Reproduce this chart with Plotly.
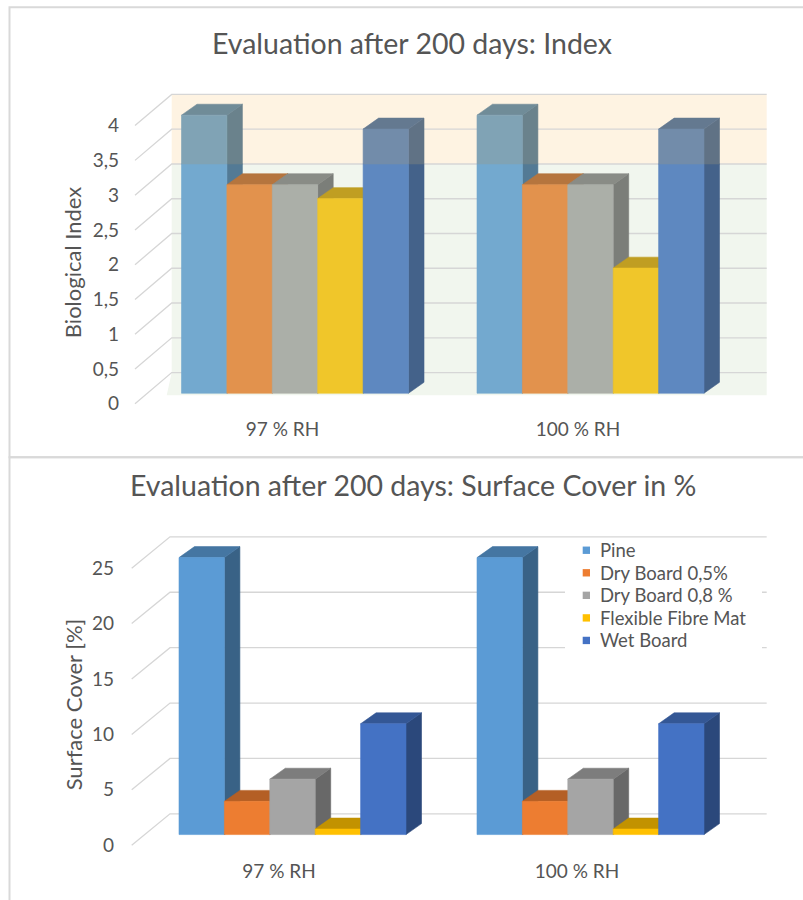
import plotly.graph_objects as go

# ---------------- data ----------------
categories = ["97 % RH", "100 % RH"]
series_names = ["Pine", "Dry Board 0,5%", "Dry Board 0,8 %", "Flexible Fibre Mat", "Wet Board"]

# Biological index after 200 days
index_pine = [4.0, 4.0]
index_dry_05 = [3.0, 3.0]
index_dry_08 = [3.0, 3.0]
index_fibre_mat = [2.8, 1.8]
index_wet = [3.8, 3.8]

# Surface cover after 200 days [%]
cover_pine = [25, 25]
cover_dry_05 = [3, 3]
cover_dry_08 = [5, 5]
cover_fibre_mat = [0.5, 0.5]
cover_wet = [10, 10]

index_ticks = [0, 0.5, 1, 1.5, 2, 2.5, 3, 3.5, 4]
index_tick_labels = ["0", "0,5", "1", "1,5", "2", "2,5", "3", "3,5", "4"]
cover_ticks = [0, 5, 10, 15, 20, 25]
cover_tick_labels = ["0", "5", "10", "15", "20", "25"]
index_limit = 3  # index band boundary drawn on the back wall

# ---------------- style ----------------
W, H = 803, 900
FONT = "Lato"
TEXT = "#555555"
GRID = "#D6D6D6"
FRAME = "#D9D9D9"

index_colors = ["#73A9CF", "#E2924D", "#ABAFA8", "#F0C62A", "#5E88C0"]
cover_colors = ["#5B9BD5", "#ED7D31", "#A5A5A5", "#FFC000", "#4472C4"]

# pixel geometry of the two oblique-projected panels
TOP = dict(xaxis="x", yaxis="y", px_x=(128, 790), px_y=(88, 412), cat0=295.0, cat_step=295.5,
           zero=395.0, unit=69.83, bar_px=45.4, depth=(15.5, 11.0), wall_px=(171.7, 766.7),
           front_px=135.0, rise_px=20.8, drop_px=10.5, label_shift_px=-12.5)
BOTTOM = dict(xaxis="x2", yaxis="y2", px_x=(128, 790), px_y=(528, 856), cat0=292.5, cat_step=298.0,
              zero=838.3, unit=11.13, bar_px=45.4, depth=(15.5, 11.0), wall_px=(170.0, 766.7),
              front_px=131.7, rise_px=20.8, drop_px=10.7, label_shift_px=-13.5)


def hex_rgb(c):
    c = c.lstrip("#")
    return tuple(int(c[i:i + 2], 16) for i in (0, 2, 4))


def rgb_hex(t):
    return "#%02X%02X%02X" % tuple(max(0, min(255, int(round(v)))) for v in t)


def shade(c, k):
    return rgb_hex(tuple(v * k for v in hex_rgb(c)))


def tint(c, with_rgb=(160, 150, 120), a=0.3):
    return rgb_hex(tuple(v + a * (w - v) for v, w in zip(hex_rgb(c), with_rgb)))


def to_x(p, px):
    return (px - p["cat0"]) / p["cat_step"]


def to_y(p, py):
    return (p["zero"] - py) / p["unit"]


def axis_setup(p):
    x0, x1 = p["px_x"]
    y0, y1 = p["px_y"]
    return dict(xdom=[x0 / W, x1 / W], ydom=[1 - y1 / H, 1 - y0 / H],
                xr=[to_x(p, x0), to_x(p, x1)], yr=[to_y(p, y1), to_y(p, y0)])


def clip(poly, t, below):
    """Clip a polygon against the horizontal line y = t."""
    def inside(q):
        return q[1] <= t if below else q[1] >= t

    def cross(a, b):
        f = (t - a[1]) / (b[1] - a[1])
        return (a[0] + f * (b[0] - a[0]), t)

    out = []
    for i in range(len(poly)):
        cur, prev = poly[i], poly[i - 1]
        if inside(cur):
            if not inside(prev):
                out.append(cross(prev, cur))
            out.append(cur)
        elif inside(prev):
            out.append(cross(prev, cur))
    return out


def add_columns(fig, p, values, colors, side_k, top_k, split=None):
    bw = p["bar_px"] / p["cat_step"]
    ddx = p["depth"][0] / p["cat_step"]
    ddy = p["depth"][1] / p["unit"]
    for j, vals in enumerate(values):
        faces = {"side": [], "top": [], "front": []}
        for i, v in enumerate(vals):
            l = i + (j - 2.5) * bw
            r = l + bw
            faces["side"].append([(r, 0), (r + ddx, ddy), (r + ddx, v + ddy), (r, v)])
            faces["top"].append([(l, v), (r, v), (r + ddx, v + ddy), (l + ddx, v + ddy)])
            faces["front"].append([(l, 0), (r, 0), (r, v), (l, v)])
        for face, k in (("side", side_k), ("top", top_k), ("front", 1.0)):
            base = shade(colors[j], k)
            zones = [(None, base)] if split is None else [(True, base), (False, tint(base))]
            for zone, col in zones:
                xs, ys = [], []
                for poly in faces[face]:
                    pts = poly if zone is None else clip(poly, split, zone)
                    if len(pts) < 3:
                        continue
                    xs += [q[0] for q in pts] + [pts[0][0], None]
                    ys += [q[1] for q in pts] + [pts[0][1], None]
                if xs:
                    fig.add_trace(go.Scatter(
                        x=xs, y=ys, fill="toself", fillcolor=col, mode="lines",
                        line=dict(color=col, width=0.6), hoverinfo="skip", showlegend=False,
                        xaxis=p["xaxis"], yaxis=p["yaxis"]))


def wall_shapes(p, ticks, band=None):
    xa, ya = p["xaxis"], p["yaxis"]
    wl, wr = to_x(p, p["wall_px"][0]), to_x(p, p["wall_px"][1])
    fx = to_x(p, p["front_px"])
    rise = p["rise_px"] / p["unit"]
    drop = p["drop_px"] / p["unit"]
    shapes = []
    if band is not None:
        lo_col, hi_col, limit, top = band
        floor_y = to_y(p, 397)
        floor_l = to_x(p, p["wall_px"][0] - 5)
        shapes.append(dict(type="path", xref=xa, yref=ya, layer="below", line=dict(width=0),
                           fillcolor=lo_col,
                           path=f"M {wl},{limit + rise} L {wr},{limit + rise} L {wr},{floor_y} "
                                f"L {floor_l},{floor_y} L {wl},{rise} Z"))
        shapes.append(dict(type="rect", xref=xa, yref=ya, layer="below", line=dict(width=0),
                           fillcolor=hi_col, x0=wl, x1=wr, y0=limit + rise, y1=top + rise))
    for v in ticks:
        shapes.append(dict(type="path", xref=xa, yref=ya, layer="below",
                           line=dict(color=GRID, width=1.3),
                           path=f"M {fx},{v - drop} L {wl},{v + rise} L {wr},{v + rise}"))
    return shapes


fig = go.Figure()

index_values = [index_pine, index_dry_05, index_dry_08, index_fibre_mat, index_wet]
cover_values = [cover_pine, cover_dry_05, cover_dry_08, cover_fibre_mat, cover_wet]

rise_top = TOP["rise_px"] / TOP["unit"]
add_columns(fig, TOP, index_values, index_colors, 0.72, 0.80, split=index_limit + rise_top)
add_columns(fig, BOTTOM, cover_values, cover_colors, 0.63, 0.76)

shapes = []
# chart frames
shapes.append(dict(type="rect", xref="paper", yref="paper", x0=9.5 / W, x1=812 / W,
                   y0=1 - 459.3 / H, y1=1 - 7.3 / H, line=dict(color=FRAME, width=2), layer="below"))
shapes.append(dict(type="rect", xref="paper", yref="paper", x0=9.5 / W, x1=812 / W,
                   y0=1 - 912 / H, y1=1 - 459.3 / H, line=dict(color=FRAME, width=2), layer="below"))
shapes += wall_shapes(TOP, index_ticks, band=("#F1F6EE", "#FEF3E2", index_limit, max(index_ticks)))
shapes += wall_shapes(BOTTOM, cover_ticks)

# legend box (white panel hiding the back-wall lines) + colour keys
lg_x0, lg_x1, lg_y0, lg_y1 = 565, 762, 542, 659
shapes.append(dict(type="rect", xref="x2", yref="y2", layer="below", line=dict(width=0),
                   fillcolor="white", x0=to_x(BOTTOM, lg_x0), x1=to_x(BOTTOM, lg_x1),
                   y0=to_y(BOTTOM, lg_y1), y1=to_y(BOTTOM, lg_y0)))
annotations = []
row0, row_step = 552.7, 22.65
for j, name in enumerate(series_names):
    cy = row0 + j * row_step
    shapes.append(dict(type="rect", xref="paper", yref="paper", layer="above", line=dict(width=0),
                       fillcolor=cover_colors[j], x0=582.7 / W, x1=590.0 / W,
                       y0=1 - (cy + 3.7) / H, y1=1 - (cy - 3.7) / H))
    annotations.append(dict(text=name, xref="paper", yref="paper", x=598 / W, y=1 - cy / H,
                            xanchor="left", yanchor="middle", showarrow=False,
                            font=dict(family=FONT, size=18.5, color=TEXT)))

# titles
annotations.append(dict(text="Evaluation after 200 days: Index", xref="paper", yref="paper",
                        x=412 / W, y=1 - 43 / H, xanchor="center", yanchor="middle", showarrow=False,
                        font=dict(family=FONT, size=28.5, color=TEXT)))
annotations.append(dict(text="Evaluation after 200 days: Surface Cover in %", xref="paper", yref="paper",
                        x=413 / W, y=1 - 487 / H, xanchor="center", yanchor="middle", showarrow=False,
                        font=dict(family=FONT, size=28.5, color=TEXT)))
annotations.append(dict(text="Biological Index", xref="paper", yref="paper", textangle=-90,
                        x=73.3 / W, y=1 - 264 / H, xanchor="center", yanchor="middle", showarrow=False,
                        font=dict(family=FONT, size=22, color=TEXT)))
annotations.append(dict(text="Surface Cover [%]", xref="paper", yref="paper", textangle=-90,
                        x=73.5 / W, y=1 - 708 / H, xanchor="center", yanchor="middle", showarrow=False,
                        font=dict(family=FONT, size=22, color=TEXT)))


def axes_layout(p, ticks, labels, standoff_y, standoff_x, anchor_x, anchor_y):
    a = axis_setup(p)
    drop = p["drop_px"] / p["unit"]
    shift = p["label_shift_px"] / p["cat_step"]
    tickfont = dict(family=FONT, size=19, color=TEXT)
    xa = dict(domain=a["xdom"], range=a["xr"], anchor=anchor_y, showgrid=False, zeroline=False,
              showline=False, ticks="", tickmode="array",
              tickvals=[i + shift for i in range(len(categories))], ticktext=categories,
              ticklabelstandoff=standoff_x, tickfont=tickfont, fixedrange=True)
    ya = dict(domain=a["ydom"], range=a["yr"], anchor=anchor_x, showgrid=False, zeroline=False,
              showline=False, ticks="", tickmode="array",
              tickvals=[v - drop for v in ticks], ticktext=labels,
              ticklabelstandoff=standoff_y, tickfont=tickfont, fixedrange=True)
    return xa, ya


xa1, ya1 = axes_layout(TOP, index_ticks, index_tick_labels, 8, 6, "x", "y")
xa2, ya2 = axes_layout(BOTTOM, cover_ticks, cover_tick_labels, 13, 6, "x2", "y2")

fig.update_layout(
    width=W, height=H, margin=dict(l=0, r=0, t=0, b=0),
    paper_bgcolor="white", plot_bgcolor="rgba(0,0,0,0)", showlegend=False,
    xaxis=xa1, yaxis=ya1, xaxis2=xa2, yaxis2=ya2,
    shapes=shapes, annotations=annotations,
)

fig.write_html("out.html")
